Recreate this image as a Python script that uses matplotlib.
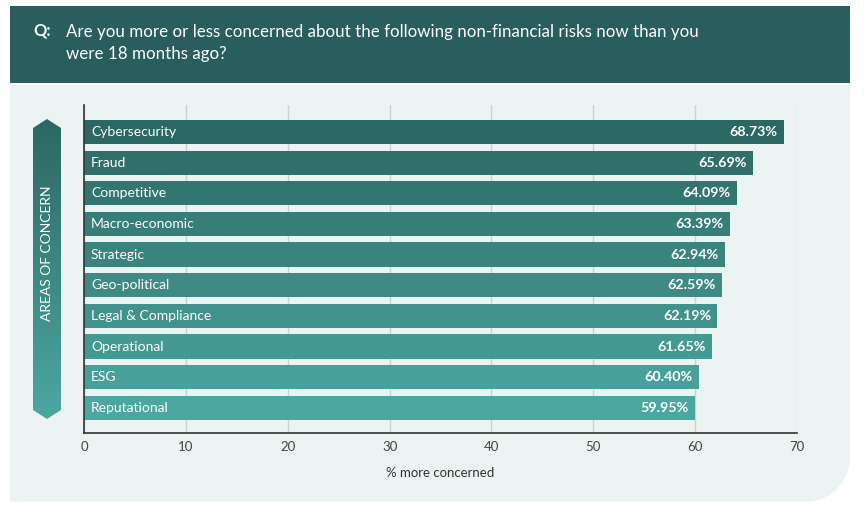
import matplotlib.pyplot as plt
import numpy as np
from matplotlib.patches import Polygon, Rectangle
from matplotlib.colors import LinearSegmentedColormap

# --- data ---
categories = ["Cybersecurity", "Fraud", "Competitive", "Macro-economic", "Strategic",
              "Geo-political", "Legal & Compliance", "Operational", "ESG", "Reputational"]
values = [68.73, 65.69, 64.09, 63.39, 62.94, 62.59, 62.19, 61.65, 60.40, 59.95]
x_ticks = [0, 10, 20, 30, 40, 50, 60, 70]
title_lines = "Are you more or less concerned about the following non-financial risks now than you\nwere 18 months ago?"

W, H = 865, 514
plt.rcParams["font.family"] = ["Lato", "DejaVu Sans"]

dark = "#2c6863"
light = "#4ca7a1"
header_col = "#2a5d5d"
panel_col = "#ecf3f3"
cmap = LinearSegmentedColormap.from_list("teal", [dark, light])

fig = plt.figure(figsize=(W / 100, H / 100), dpi=100)
fig.patch.set_facecolor("white")

# background layer in pixel coordinates
bg = fig.add_axes([0, 0, 1, 1], zorder=0)
bg.set_xlim(0, W)
bg.set_ylim(H, 0)
bg.axis("off")

# header
bg.add_patch(Rectangle((10, 6), 840, 77, color=header_col, lw=0))
bg.text(33, 30, "Q:", color="white", fontsize=12, fontweight="bold", va="center")
bg.text(66, 43, title_lines, color="white", fontsize=12.2, va="center", linespacing=1.45)

# light panel with rounded bottom-right corner
r = 45
ang = np.linspace(0, np.pi / 2, 30)
arc = np.column_stack([850 - r + r * np.cos(ang), 502 - r + r * np.sin(ang)])
pts = np.vstack([[[10, 85], [850, 85]], arc, [[10, 502]]])
bg.add_patch(Polygon(pts, closed=True, color=panel_col, lw=0))

# banner arrow with gradient
banner = Polygon([[47, 119], [61, 128], [61, 410], [47, 419], [33, 410], [33, 128]],
                 closed=True, facecolor="none", edgecolor="none")
bg.add_patch(banner)
grad = np.linspace(0, 1, 200).reshape(-1, 1)
im = bg.imshow(grad, cmap=cmap, extent=[33, 61, 419, 119], aspect="auto", zorder=1)
im.set_clip_path(banner)
bg.set_xlim(0, W)
bg.set_ylim(H, 0)
bg.text(47, 253, "AREAS OF CONCERN", rotation=90, color="white", fontsize=10,
        ha="center", va="center", zorder=2)

# main chart
ax = fig.add_axes([84 / W, 1 - 433 / H, (797 - 84) / W, (433 - 105) / H], zorder=1)
ax.patch.set_alpha(0)
y = np.arange(len(categories))
colors = [cmap(i / (len(categories) - 1)) for i in range(len(categories))]
ax.barh(y, values, height=0.79, color=colors, zorder=2)
ax.set_xlim(0, 70)
ax.set_ylim(9.82, -0.88)
ax.set_xticks(x_ticks)
ax.set_yticks([])
ax.grid(axis="x", color="#cbd2d2", lw=1, zorder=0)
ax.tick_params(axis="x", length=0, pad=6, labelsize=9.5, labelcolor="#444444")
for s in ["top", "right"]:
    ax.spines[s].set_visible(False)
for s in ["left", "bottom"]:
    ax.spines[s].set_color("#333333")
    ax.spines[s].set_linewidth(1.2)

for yi, cat, val in zip(y, categories, values):
    ax.annotate(cat, (0, yi), xytext=(5, 0), textcoords="offset points",
                color="white", fontsize=10, va="center", ha="left", zorder=3)
    ax.annotate(f"{val:.2f}%", (val, yi), xytext=(-4.5, 0), textcoords="offset points",
                color="white", fontsize=10.3, fontweight="bold", va="center", ha="right", zorder=3)

ax.set_xlabel("% more concerned", fontsize=9.5, color="#333333", labelpad=10)

fig.savefig("out.png", dpi=100)
